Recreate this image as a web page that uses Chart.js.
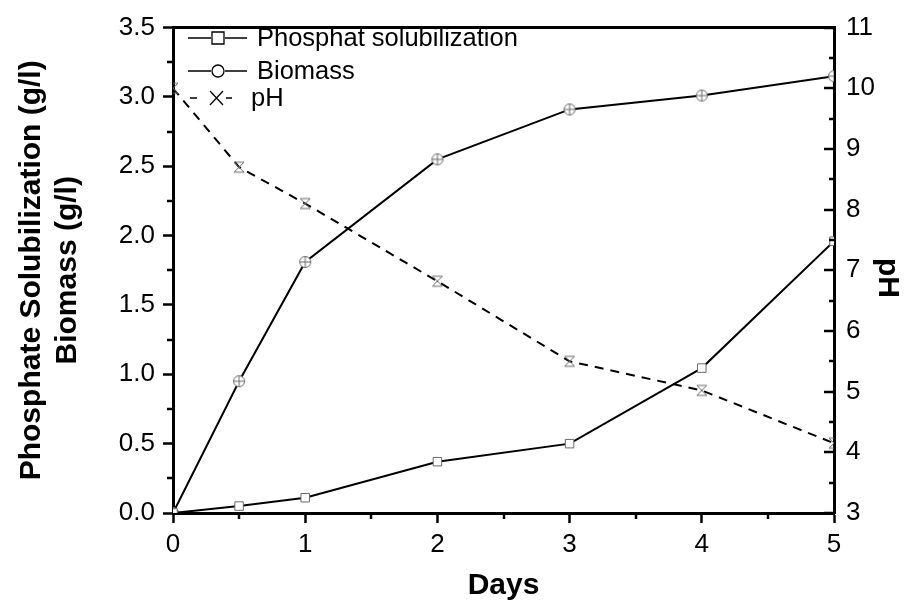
<!DOCTYPE html>
<html>
<head>
<meta charset="utf-8">
<script src="https://cdn.jsdelivr.net/npm/chart.js@4.4.1/dist/chart.umd.min.js"></script>
<style>
  html, body { margin: 0; padding: 0; background: #fff; }
  #wrap { width: 909px; height: 601px; }
</style>
</head>
<body>
<div id="wrap"><canvas id="chart" width="909" height="601"></canvas></div>
<script>
// culture time course: phosphate solubilization, biomass and pH
const days = [0, 0.5, 1, 2, 3, 4, 5];
const phosphate = [0, 0.05, 0.11, 0.37, 0.50, 1.045, 1.96];
const biomass = [0, 0.95, 1.81, 2.55, 2.91, 3.01, 3.15];
const pH = [10.0, 8.7, 8.1, 6.82, 5.5, 5.02, 4.15];

const FONT = '"Liberation Sans", Arial, sans-serif';
const MARK = '#6a6a6a';

// circle marker with a cross inside
function circleMark() {
    const c = document.createElement('canvas');
    c.width = 14; c.height = 14;
    const g = c.getContext('2d');
    g.strokeStyle = MARK; g.lineWidth = 1;
    g.fillStyle = '#fff';
    g.beginPath(); g.arc(7, 7, 5.5, 0, Math.PI * 2); g.fill(); g.stroke();
    g.beginPath(); g.moveTo(1.5, 7); g.lineTo(12.5, 7); g.moveTo(7, 1.5); g.lineTo(7, 12.5); g.stroke();
    return c;
}

// hourglass-like cross marker used for pH
function crossMark() {
    const c = document.createElement('canvas');
    c.width = 14; c.height = 14;
    const g = c.getContext('2d');
    g.strokeStyle = MARK; g.lineWidth = 1;
    g.beginPath();
    g.moveTo(2, 2); g.lineTo(12, 12); g.moveTo(12, 2); g.lineTo(2, 12);
    g.moveTo(2, 2); g.lineTo(12, 2); g.moveTo(2, 12); g.lineTo(12, 12);
    g.stroke();
    return c;
}

// minor ticks, inward pH ticks, top frame, pH title and the line-sample legend
const decorations = {
    id: 'decorations',
    afterDraw(chart) {
        const ctx = chart.ctx;
        const area = chart.chartArea;
        const x = chart.scales.x, y = chart.scales.y, y2 = chart.scales.y2;
        ctx.save();
        ctx.strokeStyle = '#000';
        ctx.lineWidth = 2.5;
        ctx.beginPath();
        for (let v = 0.25; v < 3.5; v += 0.5) {
            const py = Math.round(y.getPixelForValue(v));
            ctx.moveTo(area.left, py); ctx.lineTo(area.left - 6, py);
        }
        for (let v = 3; v <= 11; v += 0.5) {
            const py = Math.round(y2.getPixelForValue(v));
            const len = Number.isInteger(v) ? 10 : 5;
            ctx.moveTo(area.right, py); ctx.lineTo(area.right - len, py);
        }
        for (let v = 0.5; v < 5; v += 1) {
            const px = Math.round(x.getPixelForValue(v));
            ctx.moveTo(px, area.bottom); ctx.lineTo(px, area.bottom + 6);
        }
        ctx.stroke();
        ctx.lineWidth = 3;
        ctx.beginPath();
        ctx.moveTo(area.left - 1, area.top); ctx.lineTo(area.right + 1, area.top);
        ctx.stroke();

        // right axis title, read top to bottom
        ctx.save();
        ctx.translate(887, 278);
        ctx.rotate(Math.PI / 2);
        ctx.font = 'bold 30px ' + FONT;
        ctx.fillStyle = '#000';
        ctx.textAlign = 'center';
        ctx.textBaseline = 'middle';
        ctx.fillText('pH', 0, 0);
        ctx.restore();

        // legend
        const rows = [
            { label: 'Phosphat solubilization', y: 38, mark: 'square', tx: 257 },
            { label: 'Biomass', y: 71, mark: 'circle', tx: 257 },
            { label: 'pH', y: 98, mark: 'x', tx: 251 }
        ];
        ctx.font = '25.5px ' + FONT;
        ctx.textBaseline = 'middle';
        ctx.fillStyle = '#000';
        rows.forEach(r => {
            ctx.strokeStyle = '#000';
            ctx.lineWidth = 1.5;
            ctx.beginPath();
            if (r.mark === 'x') {
                ctx.moveTo(190, r.y); ctx.lineTo(197, r.y);
                ctx.moveTo(226, r.y); ctx.lineTo(232, r.y);
            } else {
                ctx.moveTo(188, r.y); ctx.lineTo(211, r.y);
                ctx.moveTo(225, r.y); ctx.lineTo(247, r.y);
            }
            ctx.stroke();
            ctx.lineWidth = 1.3;
            ctx.beginPath();
            if (r.mark === 'square') {
                ctx.rect(212, r.y - 6, 12, 12);
            } else if (r.mark === 'circle') {
                ctx.arc(218, r.y, 6, 0, Math.PI * 2);
            } else {
                ctx.moveTo(210, r.y - 7); ctx.lineTo(223, r.y + 7);
                ctx.moveTo(223, r.y - 7); ctx.lineTo(210, r.y + 7);
            }
            ctx.stroke();
            ctx.fillText(r.label, r.tx, r.y + 1);
        });
        ctx.restore();
    }
};

const tickFont = { family: FONT, size: 26 };
const titleFont = { family: FONT, size: 30, weight: 'bold', lineHeight: 1.2 };

new Chart(document.getElementById('chart'), {
    type: 'line',
    data: {
        datasets: [
            {
                label: 'Phosphat solubilization', yAxisID: 'y',
                data: days.map((d, i) => ({ x: d, y: phosphate[i] })),
                borderColor: '#000', borderWidth: 2, tension: 0,
                pointStyle: 'rect', pointRadius: 6, pointBorderWidth: 1,
                pointBorderColor: MARK, pointBackgroundColor: '#fff'
            },
            {
                label: 'Biomass', yAxisID: 'y',
                data: days.map((d, i) => ({ x: d, y: biomass[i] })),
                borderColor: '#000', borderWidth: 2, tension: 0,
                pointStyle: circleMark(), pointRadius: 7
            },
            {
                label: 'pH', yAxisID: 'y2',
                data: days.map((d, i) => ({ x: d, y: pH[i] })),
                borderColor: '#000', borderWidth: 2, borderDash: [9, 7], tension: 0,
                pointStyle: crossMark(), pointRadius: 7
            }
        ]
    },
    options: {
        responsive: false,
        animation: false,
        layout: { padding: { top: 24, left: 0, right: 0, bottom: 0 } },
        plugins: { legend: { display: false }, tooltip: { enabled: false } },
        scales: {
            x: {
                type: 'linear', min: 0, max: 5,
                border: { color: '#000', width: 3 },
                grid: { drawOnChartArea: false, color: '#000', tickLength: 10, tickWidth: 2.5 },
                ticks: { stepSize: 1, color: '#000', font: tickFont, padding: 6 },
                title: { display: true, text: 'Days', color: '#000', font: titleFont, padding: { top: 0, bottom: -3 } },
                afterFit(s) { s.height = 88; }
            },
            y: {
                position: 'left', min: 0, max: 3.5,
                border: { color: '#000', width: 3 },
                grid: { drawOnChartArea: false, color: '#000', tickLength: 10, tickWidth: 2.5 },
                ticks: { stepSize: 0.5, color: '#000', font: tickFont, padding: 8,
                    callback: v => v.toFixed(1) },
                title: { display: true, text: ['Phosphate Solubilization (g/l)', 'Biomass (g/l)'],
                    color: '#000', font: titleFont, padding: { top: 14 } },
                afterFit(s) { s.width = 173; }
            },
            y2: {
                position: 'right', min: 3, max: 11,
                border: { color: '#000', width: 3 },
                grid: { drawOnChartArea: false, drawTicks: false },
                ticks: { stepSize: 1, color: '#000', font: tickFont, padding: 12 },
                afterFit(s) { s.width = 75; }
            }
        }
    },
    plugins: [decorations]
});
</script>
</body>
</html>
